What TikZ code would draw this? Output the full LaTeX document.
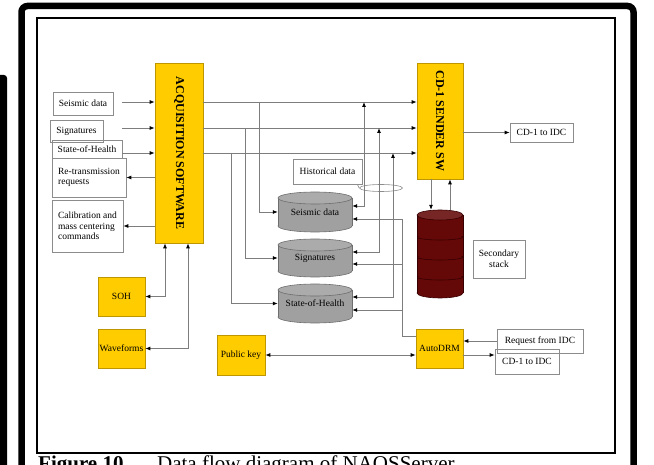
\documentclass[tikz,border=0pt]{standalone}
\usepackage{fontspec}
\setmainfont{Liberation Serif}
\usepackage{graphicx}
\usetikzlibrary{arrows.meta,calc,shapes.geometric}
\definecolor{ygold}{RGB}{255,204,0}
\definecolor{yedge}{RGB}{190,150,0}
\definecolor{drumgray}{RGB}{160,160,160}
\definecolor{drumedge}{RGB}{110,110,110}
\definecolor{maroon}{RGB}{100,8,8}
\definecolor{maroonedge}{RGB}{55,0,0}
\definecolor{linegray}{RGB}{125,125,125}
\definecolor{boxedge}{RGB}{140,140,140}
\newcommand\vtxt{\fontsize{12}{13}\selectfont\bfseries}
\newcommand\mydrum[7]{%
  \filldraw[fill=#6,draw=#7,line width=0.6pt] ({(#1+#2)/2},{#4-#5}) ellipse[x radius={(#2-#1)/2}, y radius=#5];
  \fill[#6] (#1,{#3+#5}) rectangle (#2,{#4-#5});
  \draw[#7,line width=0.6pt] (#1,{#3+#5}) -- (#1,{#4-#5}) (#2,{#3+#5}) -- (#2,{#4-#5});
  \filldraw[fill=#6!88!white,draw=#7,line width=0.6pt] ({(#1+#2)/2},{#3+#5}) ellipse[x radius={(#2-#1)/2}, y radius=#5];
}
\begin{document}
\begin{tikzpicture}[x=1pt,y=-1pt,
  lbl/.style={font=\fontsize{9.5}{10.5}\selectfont, inner sep=1pt, align=center},
  wbox/.style={lbl, draw=boxedge, line width=0.7pt, minimum width=#1},
  ybox/.style={lbl, fill=ygold, draw=yedge, line width=0.7pt},
  lin/.style={draw=linegray, line width=0.8pt},
  arr/.style={lin, -{Latex[length=5pt,width=4pt,color=black]}},
  barr/.style={lin, {Latex[length=5pt,width=4pt,color=black]}-{Latex[length=5pt,width=4pt,color=black]}}]
\useasboundingbox (0,0) rectangle (654,465);
% frames
\fill[rounded corners=3pt] (-6,490) -- (-6,75) -- (7,75) -- (7,490) -- cycle;
\draw[line width=6.5pt, rounded corners=6pt] (21.5,490) -- (21.5,6) -- (633.5,6) -- (633.5,490);
\draw[line width=2pt] (36.5,18) rectangle (615,453);
\node[anchor=base west, inner sep=0, font=\fontsize{21}{24}\selectfont] (cap) at (38,470) {\textbf{Figure 10}\hspace{1.6em}Data flow diagram of NAOSServer};

% main yellow boxes
\node[ybox, minimum width=48pt, minimum height=180pt] (acq) at (179,153) {\rotatebox{-90}{\vtxt ACQUISITION SOFTWARE}};
\node[ybox, minimum width=46pt, minimum height=116pt] (cds) at (440,121) {\rotatebox{-90}{\vtxt CD-1 SENDER SW}};
\node[ybox, minimum width=47pt, minimum height=39pt] (sohb) at (121.5,296.5) {SOH};
\node[ybox, minimum width=47pt, minimum height=39pt] (wave) at (121.5,348.5) {Waveforms};
\node[ybox, minimum width=48pt, minimum height=40pt] (pub) at (241,355) {Public key};
\node[ybox, minimum width=47pt, minimum height=39pt] (adrm) at (439.5,348.5) {AutoDRM};

% left input boxes
\node[wbox=60pt, minimum height=23pt] (seis) at (83,103.5) {Seismic data};
\node[wbox=53pt, minimum height=22pt] (sig) at (76.5,131) {Signatures};
\node[wbox=70pt, minimum height=18pt] (sohin) at (87,149) {State-of-Health};
\node[wbox=74pt, minimum height=39pt, align=left] (retx) at (89,177.5) {Re-transmission\\requests\hspace{32pt}};
\node[wbox=71pt, minimum height=52pt, align=left] (cal) at (87.5,226) {Calibration and\\mass centering\\commands\hspace{22pt}};

% right boxes
\node[wbox=63pt, minimum height=19pt] (idc1) at (541.5,132.5) {CD-1 to IDC};
\node[wbox=52pt, minimum height=38pt] (stklbl) at (499,259) {Secondary\\stack};
\node[wbox=86pt, minimum height=24pt] (req) at (540,341) {Request from IDC};
\node[wbox=64pt, minimum height=25pt] (idc2) at (527,361.5) {CD-1 to IDC};
\node[wbox=69pt, minimum height=25pt] (hist) at (327.5,171.5) {Historical data};

% drums
\mydrum{278}{352}{192}{232}{6}{drumgray}{drumedge}
\mydrum{278}{352}{239}{277}{6}{drumgray}{drumedge}
\mydrum{278}{352}{284}{323}{6}{drumgray}{drumedge}
\node[lbl, minimum width=74pt, minimum height=40pt] (cy1) at (315,212) {Seismic data};
\node[lbl, minimum width=74pt, minimum height=38pt] (cy2) at (315,258) {Signatures};
\node[lbl, minimum width=74pt, minimum height=39pt] (cy3) at (315,303.5) {State-of-Health};

\mydrum{417}{463}{210}{298}{5}{maroon}{maroonedge}
\foreach \yy in {237,257,277}{
  \begin{scope}\clip (417,\yy) rectangle (463,\yy+6);
  \draw[maroonedge, line width=0.6pt] (440,\yy) ellipse[x radius=23, y radius=3];
  \end{scope}}
\node[minimum width=46pt, minimum height=88pt, inner sep=0] (stk) at (440,254) {};

% historical data callout
\node[draw=boxedge, line width=0.6pt, ellipse, minimum width=43pt, minimum height=7pt, inner sep=0] (hel) at (381,188) {};
\draw[boxedge, line width=0.6pt] ([xshift=-5pt]hist.south east) -- (hel.west);

% coordinates
\coordinate (i1) at (122,102);
\coordinate (i2) at (122,128);
\coordinate (i3) at (122,153);
\coordinate (xa) at (259,0);
\coordinate (xb) at (245,0);
\coordinate (xc) at (231,0);
\coordinate (xr1) at (364,0);
\coordinate (xr2) at (379,0);
\coordinate (xr3) at (393,0);
\coordinate (xd) at (402,0);
\coordinate (k1) at (165,0);
\coordinate (k2) at (188,0);
\coordinate (s1) at (431,0);
\coordinate (s2) at (450,0);
\coordinate (c1u) at ([yshift=6pt]cy1.east);
\coordinate (c1l) at ([yshift=-7pt]cy1.east);
\coordinate (c2u) at ([yshift=6pt]cy2.east);
\coordinate (c2l) at ([yshift=-6pt]cy2.east);
\coordinate (c3u) at ([yshift=6.5pt]cy3.east);
\coordinate (c3l) at ([yshift=-6.5pt]cy3.east);

% inputs
\draw[arr] (i1) -- (i1 -| acq.west);
\draw[arr] (i2) -- (i2 -| acq.west);
\draw[arr] (i3) -- (i3 -| acq.west);
\draw[arr] (acq.west |- retx.east) -- (retx.east);
\draw[arr] (acq.west |- cal.east) -- (cal.east);
\draw[barr] (sohb.east) -| (k1 |- acq.south);
\draw[barr] (wave.east) -| (k2 |- acq.south);

% main lines
\draw[arr] (i1 -| acq.east) -- (i1 -| cds.west);
\draw[arr] (i2 -| acq.east) -- (i2 -| cds.west);
\draw[arr] (i3 -| acq.east) -- (i3 -| cds.west);

% feeds to drums
\draw[arr] (xa |- i1) |- (cy1.west);
\draw[arr] (xb |- i2) |- (cy2.west);
\draw[arr] (xc |- i3) |- (cy3.west);
\draw[barr] (c1u) -| (xr1 |- i1);
\draw[barr] (c2u) -| (xr2 |- i2);
\draw[barr] (c3u) -| (xr3 |- i3);

% AutoDRM to drums
\draw[lin] ([yshift=12.5pt]adrm.west) -| (xd |- c1l);
\draw[arr] (xd |- c1l) -- (c1l);
\draw[arr] (xd |- c2l) -- (c2l);
\draw[arr] (xd |- c3l) -- (c3l);

% sender
\draw[arr] (cds.east |- idc1.west) -- (idc1.west);
\draw[arr] (s1 |- cds.south) -- (s1 |- stk.north);
\draw[arr] (s2 |- stk.north) -- (s2 |- cds.south);

% AutoDRM links
\draw[barr] (pub.east) -- (pub.east -| adrm.west);
\draw[arr] (req.west) -- (req.west -| adrm.east);
\draw[arr] (adrm.east |- pub.east) -- (pub.east -| idc2.west);
\end{tikzpicture}
\end{document}
